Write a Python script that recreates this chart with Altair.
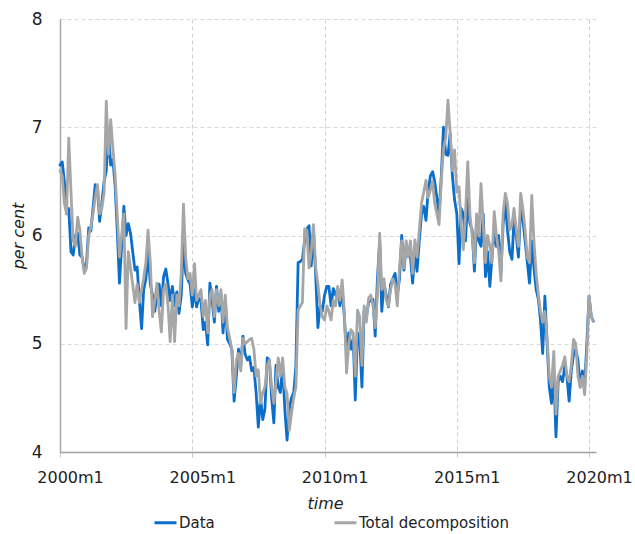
import altair as alt
import pandas as pd

# Monthly observations, starting January 2000 (one row of twelve per year)
START = "2000-01-01"

data_values = [
    6.65, 6.68, 6.50, 6.20, 6.25, 5.85, 5.82, 6.00, 6.02, 5.82, 5.80, 5.68,  # 2000
    5.75, 6.07, 6.04, 6.25, 6.47, 6.45, 6.13, 6.30, 6.50, 6.60, 6.95, 6.65,  # 2001
    6.70, 6.45, 6.05, 5.56, 5.90, 6.27, 6.00, 6.11, 6.02, 5.85, 5.68, 5.71,  # 2002
    5.40, 5.14, 5.50, 5.60, 5.85, 5.55, 5.45, 5.30, 5.45, 5.55, 5.35, 5.62,  # 2003
    5.69, 5.55, 5.40, 5.53, 5.35, 5.48, 5.28, 5.45, 5.95, 5.65, 5.59, 5.55,  # 2004
    5.34, 5.50, 5.34, 5.42, 5.40, 5.13, 5.20, 4.99, 5.56, 5.40, 5.20, 5.53,  # 2005
    5.30, 5.46, 5.10, 5.40, 5.04, 5.00, 4.95, 4.47, 4.70, 4.95, 4.80, 5.07,  # 2006
    4.90, 4.85, 4.88, 4.75, 4.78, 4.55, 4.23, 4.50, 4.30, 4.40, 4.87, 4.85,  # 2007
    4.50, 4.27, 4.80, 4.60, 4.55, 4.80, 4.40, 4.11, 4.40, 4.50, 4.55, 4.79,  # 2008
    5.75, 5.76, 5.78, 5.95, 6.06, 6.09, 5.72, 6.05, 5.62, 5.15, 5.35, 5.30,  # 2009
    5.45, 5.53, 5.53, 5.35, 5.51, 5.45, 5.50, 5.35, 5.50, 5.25, 4.90, 5.10,  # 2010
    4.95, 5.05, 4.48, 5.10, 5.05, 4.60, 5.30, 5.25, 5.38, 5.40, 5.41, 5.07,  # 2011
    5.60, 5.95, 5.30, 5.55, 5.45, 5.34, 5.55, 5.60, 5.65, 5.45, 5.60, 6.00,  # 2012
    5.68, 5.90, 5.85, 5.80, 5.56, 5.85, 5.67, 5.95, 6.20, 6.27, 6.14, 6.40,  # 2013
    6.55, 6.59, 6.50, 6.35, 6.20, 6.55, 7.00, 6.75, 6.74, 6.94, 6.55, 6.33,  # 2014
    6.20, 5.74, 6.25, 6.20, 5.95, 6.35, 6.11, 6.05, 5.67, 6.10, 5.95, 5.90,  # 2015
    6.20, 5.62, 5.85, 5.53, 5.80, 6.05, 5.90, 6.00, 5.65, 6.10, 6.30, 6.05,  # 2016
    5.85, 5.78, 6.15, 6.00, 5.80, 6.25, 6.15, 5.95, 5.75, 5.56, 5.95, 5.70,  # 2017
    5.50, 5.41, 5.22, 4.91, 5.44, 5.00, 4.60, 4.45, 4.75, 4.14, 4.65, 4.70,  # 2018
    4.65, 4.80, 4.70, 4.47, 4.75, 4.90, 4.95, 4.85, 4.60, 4.75, 4.60, 5.00,  # 2019
    5.44, 5.25, 5.21,                                                        # 2020
]

total_decomposition = [
    6.60, 6.55, 6.30, 6.20, 6.90, 6.40, 5.95, 5.90, 6.17, 6.05, 5.80, 5.65,  # 2000
    5.70, 6.00, 6.08, 6.20, 6.35, 6.47, 6.20, 6.25, 6.40, 7.24, 6.75, 7.07,  # 2001
    6.80, 6.55, 6.20, 5.80, 6.00, 6.20, 5.14, 5.85, 5.70, 5.55, 5.38, 5.55,  # 2002
    5.38, 5.50, 5.60, 5.75, 6.05, 5.75, 5.25, 5.40, 5.56, 5.30, 5.11, 5.50,  # 2003
    5.55, 5.35, 5.02, 5.45, 5.02, 5.45, 5.35, 5.65, 6.29, 5.80, 5.60, 5.65,  # 2004
    5.45, 5.74, 5.40, 5.45, 5.50, 5.25, 5.40, 5.10, 5.45, 5.50, 5.25, 5.50,  # 2005
    5.35, 5.50, 5.20, 5.45, 5.15, 5.05, 4.95, 4.55, 4.85, 4.91, 4.75, 5.05,  # 2006
    5.00, 5.02, 5.04, 5.05, 4.95, 4.70, 4.76, 4.45, 4.55, 4.60, 4.80, 4.85,  # 2007
    4.60, 4.45, 4.65, 4.87, 4.70, 4.87, 4.60, 4.54, 4.20, 4.35, 4.50, 4.60,  # 2008
    5.31, 5.35, 5.38, 6.06, 6.05, 5.70, 5.85, 6.10, 5.70, 5.55, 5.35, 5.25,  # 2009
    5.22, 5.35, 5.30, 5.22, 5.40, 5.35, 5.53, 5.40, 5.59, 5.30, 4.73, 5.00,  # 2010
    5.13, 5.10, 4.70, 5.31, 5.25, 4.80, 5.35, 5.20, 5.42, 5.45, 5.35, 5.15,  # 2011
    5.45, 6.02, 5.50, 5.60, 5.40, 5.35, 5.50, 5.60, 5.55, 5.35, 5.70, 5.95,  # 2012
    5.70, 5.95, 5.80, 5.95, 5.65, 5.96, 5.80, 6.05, 6.30, 6.40, 6.51, 6.35,  # 2013
    6.42, 6.50, 6.30, 6.20, 6.10, 6.51, 6.80, 6.90, 7.25, 6.95, 6.60, 6.79,  # 2014
    6.40, 6.45, 6.10, 5.87, 6.20, 6.68, 6.20, 6.00, 5.75, 6.20, 6.00, 6.48,  # 2015
    6.10, 5.75, 6.00, 5.90, 5.75, 6.22, 6.00, 5.85, 5.58, 6.20, 6.39, 6.30,  # 2016
    6.05, 6.10, 6.25, 6.05, 5.90, 6.39, 6.25, 6.05, 5.80, 5.75, 6.37, 5.95,  # 2017
    5.65, 5.45, 5.30, 5.20, 5.30, 5.05, 4.70, 4.60, 4.93, 4.35, 4.70, 4.75,  # 2018
    4.80, 4.88, 4.70, 4.65, 4.80, 5.04, 5.00, 4.70, 4.60, 4.70, 4.53, 4.90,  # 2019
    5.44, 5.25, 5.21,                                                        # 2020
]

series_names = ["Data", "Total decomposition"]
series_colors = ["#0a6fcb", "#a6a6a6"]
tick_years = [2000, 2005, 2010, 2015, 2020]
y_ticks = [4, 5, 6, 7, 8]

FONT = "DejaVu Sans"
TEXT = "#222222"

months = pd.date_range(START, periods=len(data_values), freq="MS")
df = pd.concat(
    [
        pd.DataFrame({"time": months, "value": data_values, "series": series_names[0]}),
        pd.DataFrame({"time": months, "value": total_decomposition, "series": series_names[1]}),
    ],
    ignore_index=True,
)

x_axis = alt.Axis(
    values=[alt.DateTime(year=y, month=1, date=1) for y in tick_years],
    labelExpr="timeFormat(datum.value, '%Y') + 'm1'",
    title="time",
    titleFont=FONT,
    titleFontSize=16,
    titleFontStyle="italic",
    titleFontWeight="normal",
    titleColor=TEXT,
    titleX=265,
    titleY=51,
    titleBaseline="middle",
    labelFont=FONT,
    labelFontSize=16,
    labelColor=TEXT,
    labelPadding=12,
    labelOffset=10,
    labelFlush=False,
    labelOverlap=False,
    ticks=True,
    tickSize=5,
    tickColor="#c8c8c8",
    domainColor="#a0a0a0",
    domainWidth=1.5,
    grid=True,
    gridColor="#cfcfcf",
    gridDash=[4, 3],
    gridWidth=1,
)

y_axis = alt.Axis(
    values=y_ticks,
    format="d",
    title="per cent",
    titleFont=FONT,
    titleFontSize=16,
    titleFontStyle="italic",
    titleFontWeight="normal",
    titleColor=TEXT,
    titleAngle=270,
    titleX=-42,
    titleY=216.5,
    titleAlign="center",
    titleBaseline="middle",
    labelFont=FONT,
    labelFontSize=17,
    labelColor=TEXT,
    labelPadding=18,
    labelFlush=False,
    ticks=False,
    domainColor="#a8a8a8",
    domainWidth=1.5,
    grid=True,
    gridColor="#d9d9d9",
    gridDash=[4, 3],
    gridWidth=1,
)

legend = alt.Legend(
    title=None,
    orient="none",
    direction="horizontal",
    legendX=93,
    legendY=491,
    symbolType="stroke",
    symbolSize=484,
    symbolStrokeWidth=3,
    labelFont=FONT,
    labelFontSize=15,
    labelColor=TEXT,
    labelOffset=1,
    columnPadding=113,
    padding=0,
)

chart = (
    alt.Chart(df)
    .mark_line(strokeWidth=2.8, strokeJoin="round", strokeCap="round")
    .encode(
        x=alt.X(
            "time:T",
            scale=alt.Scale(
                domain=[
                    alt.DateTime(year=2000, month=1, date=1),
                    alt.DateTime(year=2020, month=4, date=6),
                ]
            ),
            axis=x_axis,
        ),
        y=alt.Y("value:Q", scale=alt.Scale(domain=[4, 8], nice=False, zero=False), axis=y_axis),
        color=alt.Color(
            "series:N",
            scale=alt.Scale(domain=series_names, range=series_colors),
            legend=legend,
        ),
    )
    .properties(
        width=536,
        height=433,
        autosize=alt.AutoSizeParams(type="none"),
        padding={"left": 60, "top": 19, "right": 39, "bottom": 82},
        background="white",
    )
    .configure_view(stroke=None)
)

chart.save("out.html", embed_options={"renderer": "svg", "actions": False})
